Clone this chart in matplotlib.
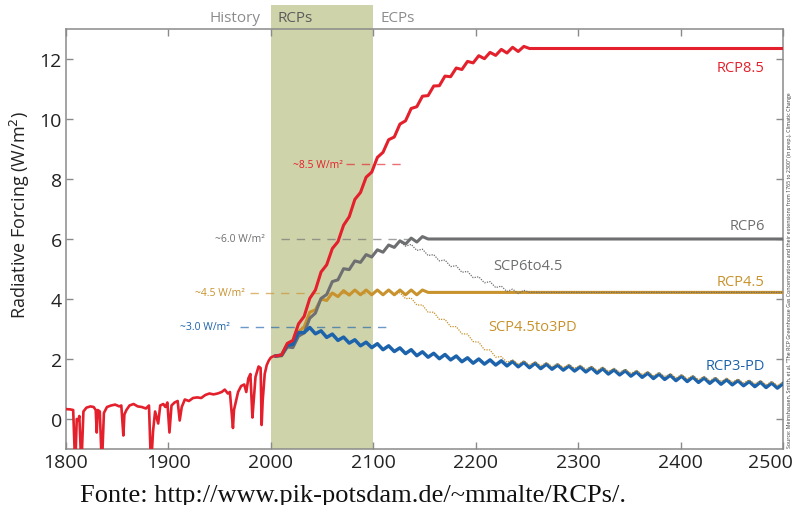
import numpy as np
import matplotlib
matplotlib.use("Agg")
import matplotlib.pyplot as plt
from matplotlib.transforms import ScaledTranslation

plt.rcParams['font.family'] = ['Open Sans', 'DejaVu Sans']

# ---------------- data ----------------
# historical forcing (W/m2), with volcanic dips
hist_years = [1800, 1804, 1807, 1809, 1810.5, 1812, 1813, 1815, 1817, 1820, 1824, 1827, 1829,
              1830, 1831, 1833, 1835, 1837, 1840, 1844, 1848, 1852, 1854, 1856, 1857, 1859,
              1862, 1866, 1870, 1874, 1878, 1881, 1883, 1885, 1887, 1890, 1892, 1895, 1897,
              1899, 1901, 1903, 1906, 1909, 1911, 1913, 1916, 1920, 1924, 1928, 1932, 1936,
              1940, 1944, 1948, 1952, 1955, 1958, 1960, 1963, 1964, 1966, 1968, 1971, 1974,
              1976, 1978, 1980, 1982, 1983, 1985, 1988, 1990, 1991, 1992, 1994, 1996, 1998,
              2000, 2003, 2005]
hist_vals = [0.33, 0.32, 0.30, -1.6, 0.0, -0.05, 0.10, -1.6, 0.25, 0.38, 0.42, 0.40, 0.30,
             -0.45, 0.30, 0.25, -1.6, 0.20, 0.40, 0.45, 0.48, 0.42, 0.45, -0.55, 0.15, 0.30,
             0.45, 0.50, 0.42, 0.40, 0.35, 0.45, -1.6, -0.40, 0.25, -0.15, 0.45, 0.50, 0.40,
             0.55, -0.45, 0.45, 0.55, 0.60, -0.05, 0.40, 0.65, 0.60, 0.70, 0.72, 0.70, 0.80,
             0.85, 0.82, 0.85, 0.90, 0.98, 0.85, 0.90, -0.30, 0.30, 0.60, 0.90, 1.10, 1.15,
             0.90, 1.35, 1.50, 0.05, 0.50, 1.40, 1.75, 1.70, -0.20, 0.60, 1.50, 1.80, 1.95,
             2.05, 2.10, 2.10]

# scenario sample years (every 5.5 years, 2005-2500)
years = np.arange(2005, 2500.1, 5.5)

rcp85 = [2.10, 2.14, 2.52, 2.62, 3.17, 3.42, 4.02, 4.30, 4.90, 5.14, 5.68, 5.91, 6.46, 6.74,
         7.32, 7.55, 8.06, 8.23, 8.72, 8.89, 9.31, 9.40, 9.83, 9.94, 10.35, 10.41, 10.76,
         10.78, 11.10, 11.11, 11.43, 11.41, 11.70, 11.65, 11.92, 11.87, 12.11, 12.01, 12.22,
         12.12, 12.32, 12.20, 12.39, 12.25, 12.42]
rcp85_plateau = 12.35

rcp6 = [2.10, 2.12, 2.40, 2.38, 2.76, 2.87, 3.36, 3.53, 4.02, 4.15, 4.58, 4.64, 5.01, 4.98,
        5.27, 5.22, 5.48, 5.40, 5.64, 5.56, 5.80, 5.72, 5.94, 5.83, 6.03, 5.90, 6.08]
rcp6_plateau = 6.0

rcp45 = [2.10, 2.10, 2.41, 2.44, 2.91, 3.07, 3.56, 3.64, 4.00, 3.95, 4.20, 4.08, 4.28, 4.13,
         4.30, 4.14, 4.30, 4.14, 4.30, 4.14, 4.30, 4.14, 4.30, 4.14, 4.30, 4.14, 4.30]
rcp45_plateau = 4.22

rcp3pd = [2.10, 2.13, 2.46, 2.49, 2.88, 2.88, 3.05, 2.84, 2.94, 2.72, 2.83, 2.62, 2.73, 2.53,
          2.64, 2.44, 2.56, 2.38, 2.51, 2.31, 2.44, 2.25, 2.37, 2.18, 2.31, 2.11, 2.24, 2.06,
          2.19, 2.01, 2.15, 1.97, 2.10, 1.91, 2.04, 1.86, 2.00, 1.83, 1.97, 1.80, 1.94, 1.77,
          1.92, 1.74, 1.89, 1.71, 1.86, 1.68, 1.83, 1.66, 1.80, 1.63, 1.77, 1.60, 1.74, 1.57,
          1.71, 1.53, 1.68, 1.50, 1.64, 1.47, 1.61, 1.43, 1.57, 1.39, 1.53, 1.35, 1.50, 1.32,
          1.46, 1.28, 1.43, 1.25, 1.40, 1.22, 1.37, 1.19, 1.34, 1.16, 1.31, 1.14, 1.28, 1.11,
          1.25, 1.08, 1.23, 1.05, 1.20, 1.03, 1.18]

# extension scenarios branch off at index 21 of the sample years
ext_start = 21
scp6to45 = [5.72, 5.92, 5.76, 5.82, 5.62, 5.66, 5.45, 5.48, 5.27, 5.30, 5.08, 5.11, 4.89,
            4.92, 4.71, 4.74, 4.54, 4.58, 4.38, 4.43, 4.25, 4.33, 4.18, 4.29]
scp6to45_plateau = 4.22

scp45to3pd = [4.14, 4.21, 4.01, 4.03, 3.80, 3.80, 3.56, 3.56, 3.32, 3.32, 3.08, 3.08, 2.84,
              2.83, 2.58, 2.56, 2.31, 2.30, 2.06, 2.08, 1.89, 1.97, 1.82, 1.94, 1.80, 1.91,
              1.77, 1.88, 1.75, 1.85, 1.72, 1.82, 1.69, 1.79, 1.66, 1.76, 1.62, 1.73, 1.59,
              1.69, 1.56, 1.66, 1.52, 1.62, 1.48, 1.58, 1.44, 1.55, 1.41, 1.51, 1.37, 1.48,
              1.34, 1.45, 1.31, 1.42, 1.28, 1.39, 1.25, 1.36, 1.23, 1.33, 1.20, 1.30, 1.17,
              1.28, 1.14, 1.25, 1.12, 1.23]

# target-level markers: label, level, dash start/end year, label anchor year
marker_labels = ["~8.5 W/m\u00b2", "~6.0 W/m\u00b2", "~4.5 W/m\u00b2", "~3.0 W/m\u00b2"]
marker_levels = [8.5, 6.0, 4.2, 3.08]
marker_dash_from = [2073, 2010, 1980, 1970]
marker_dash_to = [2127, 2135, 2100, 2113]
marker_text_x = [2070, 1994, 1975, 1960]

era_labels = ["History", "RCPs", "ECPs"]
x_ticks = [1800, 1900, 2000, 2100, 2200, 2300, 2400, 2500]
y_ticks = [0, 2, 4, 6, 8, 10, 12]

# ---------------- style ----------------
RED = "#e3202b"
GRAY = "#6e6f71"
ORANGE = "#c8922c"
BLUE = "#1c63ab"
SHADE = "#cfd3aa"
SPINE = "#8a8a8a"

fig = plt.figure(figsize=(7.96, 5.06), dpi=100)
ax = fig.add_axes([66 / 796, 56 / 506, 717 / 796, 420 / 506])
ax.set_xlim(1800, 2500)
ax.set_ylim(-1, 13)

# RCP period band, reaching above the frame
ax.axvspan(2000, 2100, ymin=0, ymax=(450 - 6) / 420, color=SHADE, lw=0,
           clip_on=False, zorder=0)

# level markers
mcolors = [RED, GRAY, ORANGE, BLUE]
for lab, lev, d0, d1, tx, c in zip(marker_labels, marker_levels, marker_dash_from,
                                   marker_dash_to, marker_text_x, mcolors):
    ax.plot([d0, d1], [lev, lev], color=c, lw=1.0, alpha=0.65, dashes=(6, 5), zorder=1)
    ax.text(tx, lev, lab, color=c, fontsize=7.5, ha='right', va='center', zorder=1)

# history
ax.plot(hist_years, hist_vals, color=RED, lw=1.9, solid_joinstyle='round', zorder=3)


def with_plateau(vals, plateau, start=0):
    """Wiggling part, then a flat level from the next sample year to 2500."""
    n = start + len(vals)
    x = list(years[start:n]) + [years[n], 2500]
    y = list(vals) + [plateau, plateau]
    return x, y


x, y = with_plateau(rcp45, rcp45_plateau)
ax.plot(x, y, color=ORANGE, lw=2.2, solid_joinstyle='round', zorder=3)
x, y = with_plateau(rcp6, rcp6_plateau)
ax.plot(x, y, color=GRAY, lw=2.2, solid_joinstyle='round', zorder=3)
ax.plot(years[:len(rcp3pd)], rcp3pd, color=BLUE, lw=2.5, solid_joinstyle='round', zorder=3)
x, y = with_plateau(rcp85, rcp85_plateau)
ax.plot(x, y, color=RED, lw=2.2, solid_joinstyle='round', zorder=4)

# extensions (thin dotted)
x, y = with_plateau(scp6to45, scp6to45_plateau, ext_start)
ax.plot(x, y, color=GRAY, lw=0.9, ls=(0, (1, 1)), zorder=5)
ax.plot(years[ext_start:ext_start + len(scp45to3pd)], scp45to3pd, color=ORANGE, lw=0.9,
        ls=(0, (1, 1)), zorder=5)

# series labels
lab_kw = dict(fontsize=10.5, ha='right', va='center')
ax.text(2482, 11.73, "RCP8.5", color=RED, **lab_kw)
ax.text(2482, 6.45, "RCP6", color=GRAY, **lab_kw)
ax.text(2482, 4.57, "RCP4.5", color=ORANGE, **lab_kw)
ax.text(2482, 1.77, "RCP3-PD", color=BLUE, **lab_kw)
ax.text(2217, 5.1, "SCP6to4.5", color=GRAY, fontsize=10.5, ha='left', va='center')
ax.text(2212, 3.07, "SCP4.5to3PD", color=ORANGE, fontsize=10.5, ha='left', va='center')

# era labels above the frame
ax.text(1990, 13.4, era_labels[0], color="#8c8c8c", fontsize=11, ha='right', va='center',
        clip_on=False)
ax.text(2006, 13.4, era_labels[1], color="#5c5c5c", fontsize=11, ha='left', va='center',
        clip_on=False)
ax.text(2107, 13.4, era_labels[2], color="#8c8c8c", fontsize=11, ha='left', va='center',
        clip_on=False)

# axes styling
ax.set_xticks(x_ticks)
ax.set_yticks(y_ticks)
ax.tick_params(direction='in', length=5, width=1, color=SPINE, top=True, right=True,
               labeltop=False, labelright=False, labelsize=14, labelcolor="#222222", pad=3)
for s in ax.spines.values():
    s.set_color(SPINE)
    s.set_linewidth(1.1)
ax.set_ylabel("Radiative Forcing (W/m$^2$)", fontsize=13, color="#222222")
ax.yaxis.set_label_coords(-0.047, 0.56)

# keep the last year label inside the figure
last = ax.xaxis.get_major_ticks()[-1].label1
last.set_transform(last.get_transform() + ScaledTranslation(-0.13, 0, fig.dpi_scale_trans))

# source note along the right edge
fig.text(789 / 796, 0.115,
         "Source: Meinshausen, Smith, et al. \u201cThe RCP Greenhouse Gas Concentrations and "
         "their extensions from 1765 to 2300\u201d (in prep.), Climatic Change",
         rotation=90, fontsize=3.8, color="#333333", ha='center', va='bottom')

# caption
fig.text(80 / 796, 0.008, "Fonte: http://www.pik-potsdam.de/~mmalte/RCPs/.",
         family=['Liberation Serif'], fontsize=19, color="#111111", ha='left', va='baseline')

fig.savefig("out.png", dpi=100)
